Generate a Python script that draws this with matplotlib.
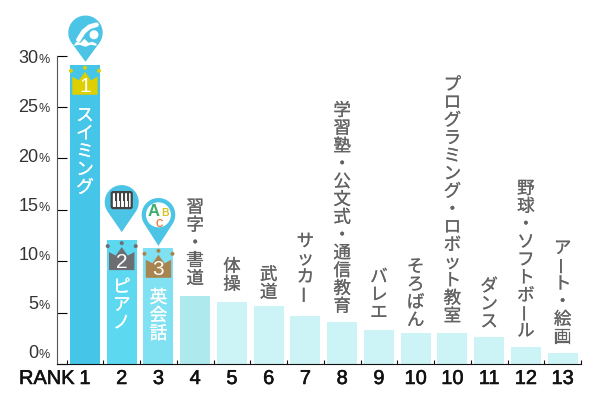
import numpy as np
import matplotlib
matplotlib.use('Agg')
import matplotlib.pyplot as plt
from matplotlib.patches import Circle, Polygon, FancyBboxPatch, Rectangle
import matplotlib.patheffects as pe

ranks = ['1', '2', '3', '4', '5', '6', '7', '8', '9', '10', '10', '11', '12', '13']
values = [29.1, 12.05, 11.3, 6.65, 6.0, 5.6, 4.65, 4.05, 3.35, 3.05, 3.05, 2.6, 1.65, 1.05]
names = ['スイミング', 'ピアノ', '英会話', '習字・書道', '体操', '武道', 'サッカー',
         '学習塾・公文式・通信教育', 'バレエ', 'そろばん', 'プログラミング・ロボット教室',
         'ダンス', '野球・ソフトボール', 'アート・絵画']
y_ticks = [0, 5, 10, 15, 20, 25, 30]

bar_colors = ['#45C6E9', '#5CD8F1', '#7FE1F1', '#AEE9EE'] + ['#CCF3F5'] * 10
crown_colors = ['#DDCF00', '#6D6E71', '#A88550']
pin_color = '#4BC4E6'
jp = ['Noto Sans CJK JP', 'DejaVu Sans']
num = 'Liberation Sans'

fig = plt.figure(figsize=(6, 4), dpi=100)
ax = fig.add_axes([56.5 / 600, 36 / 400, 524.5 / 600, 308.5 / 400])
x = np.arange(len(values))
ax.bar(x, values, width=0.816, color=bar_colors, zorder=1)
ax.set_xlim(-0.775, 13.49)
ax.set_ylim(0, 30)
ax.spines['top'].set_visible(False)
ax.spines['right'].set_visible(False)
ax.spines['left'].set_color('#555555')
ax.spines['bottom'].set_color('#111111')
ax.set_xticks(np.arange(-0.5, 14, 1))
ax.set_xticklabels([])
ax.set_yticks(y_ticks)
ax.set_yticklabels([])
ax.tick_params(axis='x', direction='in', length=3, width=0.8, color='#111111')
ax.tick_params(axis='y', direction='in', length=7.2, width=0.8)
for t, v in zip(ax.yaxis.get_major_ticks(), y_ticks):
    t.tick1line.set_color('#111111' if v % 10 == 0 else '#777777')

# overlay in pixels (y down) for the icons and stacked text
px = fig.add_axes([0, 0, 1, 1])
px.set_xlim(0, 600)
px.set_ylim(400, 0)
px.axis('off')
px.patch.set_alpha(0)


def to_px(i, v):
    a, b = ax.transData.transform((i, v))
    return a, 400 - b


def stack(s, cx, top, pitch, size, color):
    fx = [pe.withStroke(linewidth=0.15, foreground=color)]
    for k, ch in enumerate(s):
        rot = 90 if ch == 'ー' else 0
        px.text(cx, top + pitch * (k + 0.5), ch, family=jp, fontsize=size, color=color,
                ha='center', va='center', rotation=rot, path_effects=fx)


def pin(cx, cy, r, tip):
    a = np.arccos(r / (tip - cy))
    t = np.linspace(np.pi / 2 + a, np.pi * 2 + np.pi / 2 - a, 60)
    pts = [(cx + r * np.cos(u), cy + r * np.sin(u)) for u in t]
    pts.append((cx, tip))
    px.add_patch(Polygon(pts, closed=True, fc=pin_color, ec='none', zorder=5))


def crown(cx, top, color, n):
    c = [(cx - 12.7, top + 30), (cx - 12.7, top + 12), (cx - 6, top + 15.5), (cx, top + 7),
         (cx + 6, top + 15.5), (cx + 12.7, top + 12), (cx + 12.7, top + 30)]
    px.add_patch(Polygon(c, closed=True, fc=color, ec='none', zorder=5))
    for dx, dy in [(-14, 6), (0, 3), (14, 6)]:
        px.add_patch(Circle((cx + dx, top + dy), 2, fc=color, ec='none', zorder=5))
    px.text(cx, top + 22, n, family=num, fontsize=15, color='white', ha='center', va='center', zorder=6)


# y labels drift slightly from their ticks in the original
label_shift = [-6, -3.5, -1, 1, 3.5, 5, 7.5]
for v, d in zip(y_ticks, label_shift):
    _, yy = to_px(0, v)
    px.text(38.5, yy + d, str(v), family=num, fontsize=13, color='#333333', ha='right', va='baseline')
    px.text(49.5, yy + d, '%', family=num, fontsize=9, color='#333333', ha='right', va='baseline')

# rank row
rank_fx = [pe.withStroke(linewidth=0.4, foreground='#111111')]
px.text(19, 384, 'RANK', family=num, fontsize=14.4, color='#111111', ha='left', va='baseline', path_effects=rank_fx)
for i, r in enumerate(ranks):
    cx, _ = to_px(i, 0)
    px.text(cx, 384, r, family=num, fontsize=14.4, color='#111111', ha='center', va='baseline', path_effects=rank_fx)

# names inside the top three bars
inner_top = [42, 38, 41]
for i in range(3):
    cx, top = to_px(i, values[i])
    stack(names[i], cx, top + inner_top[i], 18, 12.8, 'white')
    crown(cx, top, crown_colors[i], ranks[i])

# names above the other bars
name_gap = [8, 9, 5, 12.5, 7, 8, 3.5, 7.5, 6.5, 7, 7]
for i in range(3, len(values)):
    cx, top = to_px(i, values[i])
    s = names[i]
    bottom = top - name_gap[i - 3]
    stack(s, cx, bottom - 17.8 * len(s), 17.8, 12.6, '#636363')

# pins
cx, top = to_px(0, values[0])
pin(cx + 0.5, top - 32, 17.2, top - 3)
ic = cx + 0.5
px.add_patch(Circle((ic + 8.5, top - 30), 4.5, fc='white', ec='none', zorder=6))
sw = np.array([[11, -40], [4, -38], [-2, -33], [-7, -25]])
px.plot(sw[:, 0] + ic, sw[:, 1] + top, color='white', lw=3.4, solid_capstyle='round', zorder=6)
wave = [(-12, -19), (-9, -23), (-5, -22), (-1, -26), (3, -22), (7, -23), (11, -21), (11, -19), (5, -20), (0, -18), (-6, -20)]
px.add_patch(Polygon([(ic + a, top + b) for a, b in wave], closed=True, fc='white', ec='none', zorder=6))

cx, top = to_px(1, values[1])
pin(cx, top - 38, 17, top - 8)
kx, ky = cx - 10, top - 48
px.add_patch(FancyBboxPatch((kx, ky), 20, 16, boxstyle='round,pad=0,rounding_size=1.5',
                            fc='white', ec='#444444', lw=1.6, zorder=6))
for k in range(1, 5):
    px.plot([kx + 4 * k] * 2, [ky, ky + 15], color='#444444', lw=0.8, zorder=7)
    px.add_patch(Rectangle((kx + 4 * k - 1.2, ky), 2.4, 9, fc='#444444', ec='none', zorder=7))

cx, top = to_px(2, values[2])
pin(cx, top - 33, 16.8, top - 2)
px.add_patch(Circle((cx, top - 33), 12.5, fc='white', ec='none', zorder=6))
for ch, dx, dy, sz, col in [('A', -4.5, -36, 12, '#3DAE6B'), ('B', 7, -35, 7.5, '#D9C21F'), ('C', 0.5, -24, 7.5, '#EE7B3A')]:
    px.text(cx + dx, top + dy, ch, family=num, fontweight='bold', fontsize=sz, color=col,
            ha='center', va='center', zorder=7)

fig.savefig('out.png', dpi=100)
